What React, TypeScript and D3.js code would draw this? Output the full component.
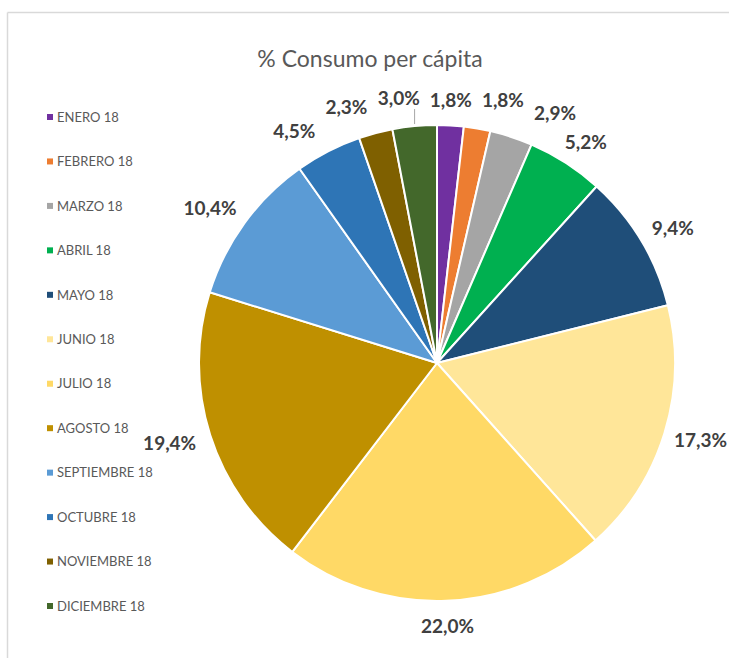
import React, { useMemo } from 'react';
import * as d3 from 'd3';

const categories = [
  'ENERO 18', 'FEBRERO 18', 'MARZO 18', 'ABRIL 18', 'MAYO 18', 'JUNIO 18',
  'JULIO 18', 'AGOSTO 18', 'SEPTIEMBRE 18', 'OCTUBRE 18', 'NOVIEMBRE 18', 'DICIEMBRE 18',
];
const values = [1.8, 1.8, 2.9, 5.2, 9.4, 17.3, 22.0, 19.4, 10.4, 4.5, 2.3, 3.0];
const colors = [
  '#7030A0', '#ED7D31', '#A5A5A5', '#00B050', '#1F4E79', '#FFE699',
  '#FFD966', '#BF9000', '#5B9BD5', '#2E75B6', '#7F6000', '#43682B',
];
const title = '% Consumo per cápita';
const leaderLines = ['DICIEMBRE 18'];

const W = 729;
const H = 658;
const CX = 437;
const CY = 363;
const R = 238;
const LABEL_FS = 19;
const LABEL_H = 18;
const GAP = 16;
const PUSH_OUT = 1.8; // px of extra radius per degree a label is displaced

const fmt = (v: number) => v.toFixed(1).replace('.', ',') + '%';

function measure(text: string, font: string): number {
  const c = document.createElement('canvas');
  const ctx = c.getContext('2d');
  if (!ctx) return text.length * 10;
  ctx.font = font;
  return ctx.measureText(text).width;
}

type Lab = { text: string; theta: number; natural: number; w: number; x: number; y: number; i: number };

function place(l: Lab) {
  const s = Math.sin(l.theta);
  const c = Math.cos(l.theta);
  const extra = PUSH_OUT * Math.abs(l.theta - l.natural) * 180 / Math.PI;
  const ax = CX + s * (R + GAP + extra);
  const ay = CY - c * (R + GAP + extra);
  l.x = Math.min(ax + s * (l.w / 2), W - l.w / 2 - 2);
  l.y = ay - c * (LABEL_H / 2);
}

export default function App() {
  const arcs = useMemo(() => d3.pie<number>().sort(null).value((d) => d)(values), []);
  const arcGen = d3.arc<d3.PieArcDatum<number>>().innerRadius(0).outerRadius(R);

  const labels = useMemo(() => {
    const font = `bold ${LABEL_FS}px Lato`;
    const ls: Lab[] = arcs.map((a, i) => {
      const t = (a.startAngle + a.endAngle) / 2;
      const text = fmt(values[i]);
      const l: Lab = { text, theta: t, natural: t, w: measure(text, font), x: 0, y: 0, i };
      place(l);
      return l;
    });
    const padX = 10;
    const padY = 8;
    const step = 0.0008;
    for (let it = 0; it < 4000; it++) {
      let moved = false;
      for (let a = 0; a < ls.length; a++) {
        for (let b = a + 1; b < ls.length; b++) {
          const p = ls[a];
          const q = ls[b];
          const ox = Math.abs(p.x - q.x) < (p.w + q.w) / 2 + padX;
          const oy = Math.abs(p.y - q.y) < LABEL_H + padY;
          if (ox && oy) {
            let d = q.theta - p.theta;
            while (d > Math.PI) d -= 2 * Math.PI;
            while (d < -Math.PI) d += 2 * Math.PI;
            const sgn = d >= 0 ? 1 : -1;
            q.theta += sgn * step;
            p.theta -= sgn * step;
            place(p);
            place(q);
            moved = true;
          }
        }
      }
      if (!moved) break;
    }
    return ls;
  }, [arcs]);

  const legendY = d3.scaleLinear().domain([0, categories.length - 1]).range([117, 606]);

  return (
    <svg width={W} height={H} style={{ position: 'absolute', left: 0, top: 0, background: '#fff' }}>
      <rect x={0} y={0} width={W} height={H} fill="#ffffff" />
      <line x1={7.5} y1={12.5} x2={W} y2={12.5} stroke="#D9D9D9" strokeWidth={1.5} />
      <line x1={7.5} y1={12.5} x2={7.5} y2={H} stroke="#D9D9D9" strokeWidth={1.5} />
      <text x={370} y={67} textAnchor="middle" fontFamily="Lato" fontSize={23} fill="#595959">
        {title}
      </text>
      <g transform={`translate(${CX},${CY})`}>
        {arcs.map((a, i) => (
          <path key={i} d={arcGen(a) || ''} fill={colors[i]} stroke="#ffffff" strokeWidth={2} strokeLinejoin="round" />
        ))}
      </g>
      {labels.map((l) => {
        const showLeader = leaderLines.includes(categories[l.i]);
        const px = CX + Math.sin(l.natural) * R;
        const py = CY - Math.cos(l.natural) * R;
        const lx = Math.max(l.x - l.w / 2, Math.min(l.x + l.w / 2, px));
        return (
          <g key={l.i}>
            {showLeader && (
              <line x1={lx} y1={py - 2} x2={lx} y2={l.y + LABEL_H / 2 + 2} stroke="#A6A6A6" strokeWidth={1} />
            )}
            <text x={l.x} y={l.y + LABEL_FS * 0.36} textAnchor="middle" fontFamily="Lato" fontWeight="bold" fontSize={LABEL_FS} fill="#404040">
              {l.text}
            </text>
          </g>
        );
      })}
      {categories.map((c, i) => (
        <g key={c} transform={`translate(0,${legendY(i)})`}>
          <rect x={47} y={-3} width={6} height={6} fill={colors[i]} />
          <text x={57} y={0} dy="0.36em" fontFamily="Lato" fontSize={13} fill="#595959">
            {c}
          </text>
        </g>
      ))}
    </svg>
  );
}
